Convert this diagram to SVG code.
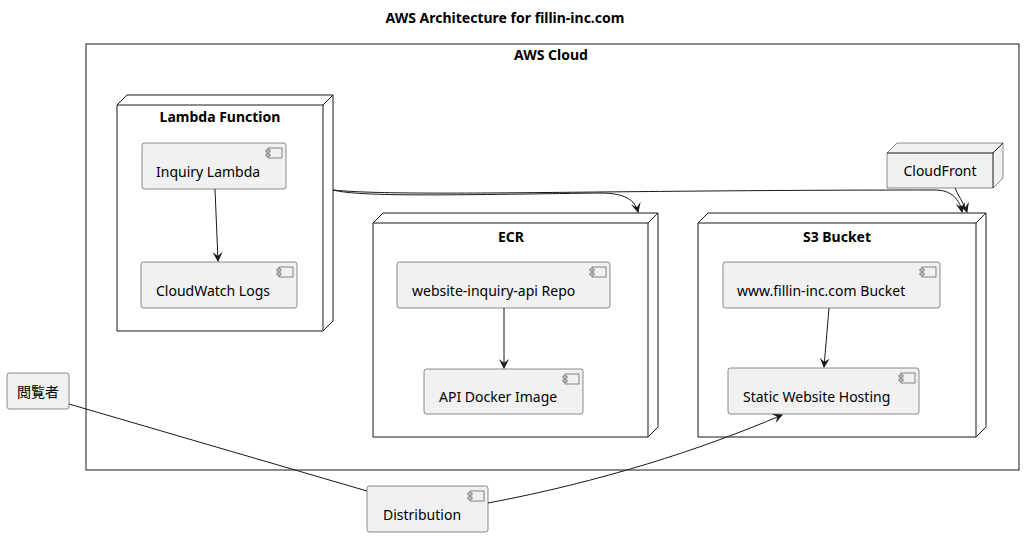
<svg xmlns="http://www.w3.org/2000/svg" width="1024" height="538" viewBox="0 0 1024 538">
<style>
text{font-family:"Noto Sans","DejaVu Sans",sans-serif;fill:#000}
.t{font-size:14px}
.b{font-size:14px;font-weight:bold}
.comp{fill:#F1F1F1;stroke:#181818;stroke-width:0.5}
.node{fill:#FFFFFF;stroke:#181818;stroke-width:1}
.gnode{fill:#F1F1F1;stroke:#181818;stroke-width:0.5}
.edge{fill:none;stroke:#181818;stroke-width:1}
.ic{fill:#F1F1F1;stroke:#181818;stroke-width:0.5}
</style>
<defs>
<marker id="ah" viewBox="0 0 10 10" refX="9" refY="5" markerWidth="10" markerHeight="10" markerUnits="userSpaceOnUse" orient="auto">
<path d="M0,0 L10,5 L0,10 L4,5 Z" fill="#181818"/>
</marker>
<g id="icon">
<rect class="ic" x="-18" y="5" width="14" height="10"/>
<rect class="ic" x="-20" y="7" width="4" height="2"/>
<rect class="ic" x="-20" y="11" width="4" height="2"/>
</g>
</defs>
<rect width="1024" height="538" fill="#FFFFFF"/>
<text class="b" x="505" y="23" text-anchor="middle">AWS Architecture for fillin-inc.com</text>

<g id="aws-cloud">
<rect x="86" y="44" width="933" height="426" fill="none" stroke="#181818" stroke-width="1"/>
<text class="b" x="551" y="60" text-anchor="middle">AWS Cloud</text>
</g>

<g id="lambda-function">
<path class="node" d="M117,105 L127,95 L333,95 L333,321 L323,331 L117,331 Z"/>
<path class="edge" d="M117,105 L323,105 L333,95 M323,105 L323,331"/>
<text class="b" x="220" y="122" text-anchor="middle">Lambda Function</text>
</g>
<g id="inquiry-lambda">
<rect class="comp" x="142" y="143" width="144" height="46" rx="2.5"/>
<use href="#icon" x="286" y="143"/>
<text class="t" x="156" y="177">Inquiry Lambda</text>
</g>
<g id="cloudwatch-logs">
<rect class="comp" x="141" y="262" width="156" height="46" rx="2.5"/>
<use href="#icon" x="297" y="262"/>
<text class="t" x="156" y="296">CloudWatch Logs</text>
</g>

<g id="ecr">
<path class="node" d="M373,223 L383,213 L658,213 L658,427 L648,437 L373,437 Z"/>
<path class="edge" d="M373,223 L648,223 L658,213 M648,223 L648,437"/>
<text class="b" x="511" y="242" text-anchor="middle">ECR</text>
</g>
<g id="repo">
<rect class="comp" x="397" y="262" width="213" height="46" rx="2.5"/>
<use href="#icon" x="610" y="262"/>
<text class="t" x="412" y="296">website-inquiry-api Repo</text>
</g>
<g id="docker-image">
<rect class="comp" x="424" y="369" width="159" height="45" rx="2.5"/>
<use href="#icon" x="583" y="369"/>
<text class="t" x="439" y="402">API Docker Image</text>
</g>

<g id="s3-bucket">
<path class="node" d="M698,223 L708,213 L986,213 L986,427 L976,437 L698,437 Z"/>
<path class="edge" d="M698,223 L976,223 L986,213 M976,223 L976,437"/>
<text class="b" x="837" y="242" text-anchor="middle">S3 Bucket</text>
</g>
<g id="www-bucket">
<rect class="comp" x="723" y="262" width="217" height="46" rx="2.5"/>
<use href="#icon" x="940" y="262"/>
<text class="t" x="737" y="296">www.fillin-inc.com Bucket</text>
</g>
<g id="static-hosting">
<rect class="comp" x="728" y="368" width="191" height="46" rx="2.5"/>
<use href="#icon" x="919" y="368"/>
<text class="t" x="743" y="402">Static Website Hosting</text>
</g>

<g id="cloudfront">
<path class="gnode" d="M887,153 L897,143 L1003,143 L1003,178 L993,188 L887,188 Z"/>
<path class="edge" d="M887,153 L993,153 L1003,143 M993,153 L993,188" stroke-width="0.5"/>
<text class="t" x="940" y="176" text-anchor="middle">CloudFront</text>
</g>

<g id="viewer">
<rect class="comp" x="7" y="373" width="62" height="36" rx="2.5"/>
<text class="t" x="38" y="397" text-anchor="middle" style="font-family:'Noto Sans CJK JP','Noto Sans',sans-serif">閲覧者</text>
</g>

<g id="distribution">
<rect class="comp" x="367" y="486" width="121" height="46" rx="2.5"/>
<use href="#icon" x="488" y="486"/>
<text class="t" x="383" y="520">Distribution</text>
</g>

<g id="connectors">
<path class="edge" d="M215,189 L218,261" marker-end="url(#ah)"/>
<path class="edge" d="M504,308 L504,368" marker-end="url(#ah)"/>
<path class="edge" d="M829,308 L824,367" marker-end="url(#ah)"/>
<path class="edge" d="M333,190 C360,197 450,195 600,193 C625,193 635,200 638,212" marker-end="url(#ah)"/>
<path class="edge" d="M333,190 C400,197 600,190 935,190 C952,190 960,200 962,212" marker-end="url(#ah)"/>
<path class="edge" d="M955,188 C958,196 964,203 967,212" marker-end="url(#ah)"/>
<path class="edge" d="M69,404 L367,491"/>
<path class="edge" d="M488,503 C600,482 700,450 782,415" marker-end="url(#ah)"/>
</g>
</svg>
